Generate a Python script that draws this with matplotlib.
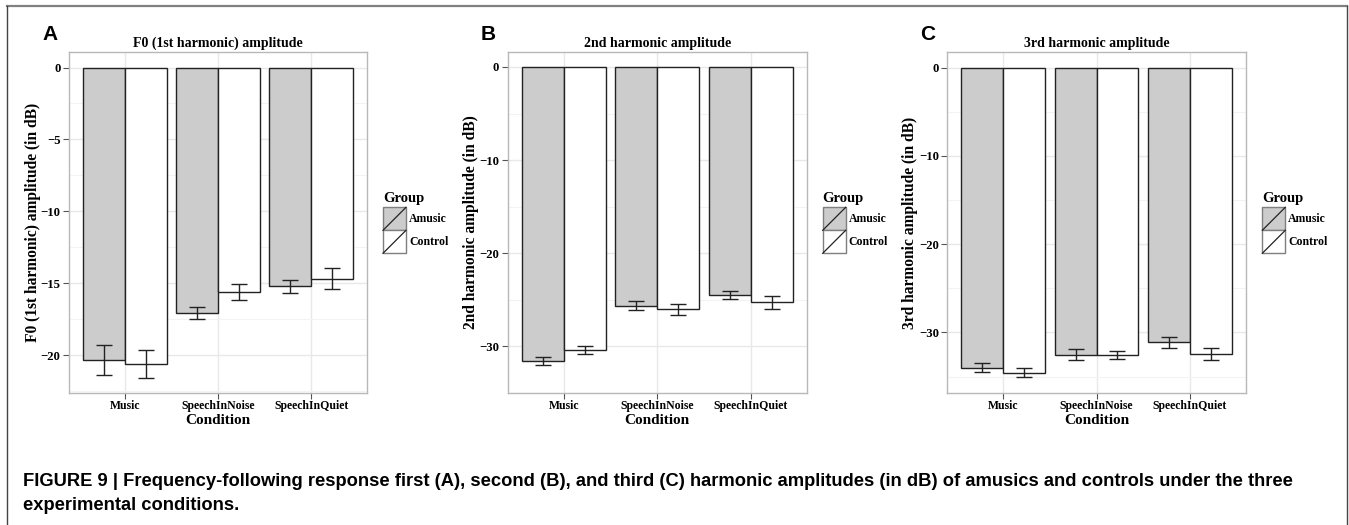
import matplotlib.pyplot as plt
import numpy as np
from matplotlib.patches import Rectangle
from matplotlib.lines import Line2D

# values (dB), mean and error-bar half width
conditions = ["Music", "SpeechInNoise", "SpeechInQuiet"]
groups = ["Amusic", "Control"]
group_colors = ["#cccccc", "#ffffff"]

f0_amusic = [-20.35, -17.06, -15.20]
f0_amusic_err = [1.05, 0.40, 0.45]
f0_control = [-20.60, -15.63, -14.67]
f0_control_err = [0.95, 0.55, 0.72]

h2_amusic = [-31.60, -25.62, -24.45]
h2_amusic_err = [0.43, 0.48, 0.43]
h2_control = [-30.41, -26.03, -25.27]
h2_control_err = [0.43, 0.56, 0.70]

h3_amusic = [-33.99, -32.52, -31.09]
h3_amusic_err = [0.49, 0.64, 0.62]
h3_control = [-34.55, -32.52, -32.44]
h3_control_err = [0.55, 0.47, 0.73]

panel_letters = ["A", "B", "C"]
panel_titles = ["F0 (1st harmonic) amplitude", "2nd harmonic amplitude", "3rd harmonic amplitude"]
panel_ylabels = ["F0 (1st harmonic) amplitude (in dB)", "2nd harmonic amplitude (in dB)",
                 "3rd harmonic amplitude (in dB)"]
panel_steps = [5, 10, 10]

W, H = 1349, 525
SERIF = "Liberation Serif"
SANS = "Liberation Sans"

fig = plt.figure(figsize=(W / 100, H / 100), dpi=100)


def fx(x):
    return x / W


def fy(y):
    return 1 - y / H


# panel placement in pixels (left, right), shared top/bottom
lefts = [69, 507.7, 947.3]
rights = [367, 806.7, 1245.7]
top, bottom = 52, 393
ylab_x = [33, 471, 910.5]
legend_x = [383, 822.7, 1262.3]

series = [
    (f0_amusic, f0_amusic_err, f0_control, f0_control_err),
    (h2_amusic, h2_amusic_err, h2_control, h2_control_err),
    (h3_amusic, h3_amusic_err, h3_control, h3_control_err),
]

x = np.arange(1, len(conditions) + 1)
bw = 0.45

for i in range(3):
    am, am_e, co, co_e = series[i]
    l, r = lefts[i], rights[i]
    ax = fig.add_axes([fx(l), fy(bottom), (r - l) / W, (bottom - top) / H])

    for k, (vals, errs) in enumerate([(am, am_e), (co, co_e)]):
        xs = x + (k - 0.5) * bw
        ax.bar(xs, vals, width=bw, color=group_colors[k], edgecolor="#222222",
               linewidth=1.0, zorder=2)
        ax.errorbar(xs, vals, yerr=errs, fmt="none", ecolor="#222222",
                    elinewidth=1.0, capsize=6, capthick=1.0, zorder=3)

    lo = min(min(np.array(am) - np.array(am_e)), min(np.array(co) - np.array(co_e)))
    pad = 0.05 * (0 - lo)
    ax.set_ylim(lo - pad, pad)
    ax.set_xlim(0.4, 3.6)

    step = panel_steps[i]
    yt = np.arange(0, lo - pad, -step)
    ax.set_yticks(yt)
    ax.set_yticks(yt - step / 2, minor=True)
    ax.set_xticks(x)
    ax.set_xticklabels(conditions, fontfamily=SERIF, fontweight="bold", fontsize=8.5)
    for lab in ax.get_yticklabels():
        lab.set_fontfamily(SERIF)
        lab.set_fontweight("bold")
        lab.set_fontsize(9.2)
    ax.tick_params(axis="both", which="major", length=4, color="#555555", width=0.8, pad=2)
    ax.tick_params(axis="x", which="major", pad=1)
    ax.tick_params(axis="y", which="minor", length=0)

    ax.grid(True, which="major", color="#e8e8e8", linewidth=1.0, zorder=0)
    ax.grid(True, which="minor", axis="y", color="#f3f3f3", linewidth=0.8, zorder=0)
    ax.set_axisbelow(True)
    for s in ax.spines.values():
        s.set_color("#b8b8b8")
        s.set_linewidth(1.0)

    ax.text(0.5, 1 + 9 / (bottom - top), panel_titles[i], transform=ax.transAxes,
            ha="center", va="center", fontfamily=SERIF, fontweight="bold", fontsize=10)
    ax.text(0.5, -27 / (bottom - top), "Condition", transform=ax.transAxes,
            ha="center", va="center", fontfamily=SERIF, fontweight="bold", fontsize=11)
    ax.set_ylabel(panel_ylabels[i], fontfamily=SERIF, fontweight="bold", fontsize=11.2,
                  va="center")
    ax.yaxis.set_label_coords((ylab_x[i] - l) / (r - l), 0.5)

    # panel letter
    fig.text(fx(l - 27), fy(34), panel_letters[i], ha="left", va="center",
             fontfamily=SANS, fontweight="bold", fontsize=15)

    # ggplot style legend
    lx = legend_x[i]
    fig.text(fx(lx), fy(198), "Group", ha="left", va="center",
             fontfamily=SERIF, fontweight="bold", fontsize=10.5)
    for k, g in enumerate(groups):
        y0 = 207.3 + k * 23
        fig.patches.append(Rectangle((fx(lx), fy(y0 + 23)), 23 / W, 23 / H,
                                     transform=fig.transFigure, facecolor=group_colors[k],
                                     edgecolor="#7f7f7f", linewidth=1.0))
        fig.lines.append(Line2D([fx(lx), fx(lx + 23)], [fy(y0 + 23), fy(y0)],
                                transform=fig.transFigure, color="#222222", linewidth=0.9))
        fig.text(fx(lx + 26), fy(y0 + 11.5), g, ha="left", va="center",
                 fontfamily=SERIF, fontweight="bold", fontsize=8.5)

# outer frame
fig.lines.append(Line2D([fx(7), fx(1347)], [fy(5.5), fy(5.5)], transform=fig.transFigure,
                        color="#808080", linewidth=1.6))
fig.lines.append(Line2D([fx(7), fx(7)], [fy(5.5), 0], transform=fig.transFigure,
                        color="#444444", linewidth=1.0))
fig.lines.append(Line2D([fx(1347), fx(1347)], [fy(5.5), 0], transform=fig.transFigure,
                        color="#444444", linewidth=1.0))

caption1 = ("FIGURE 9 | Frequency-following response first (A), second (B), and third (C) "
            "harmonic amplitudes (in dB) of amusics and controls under the three")
caption2 = "experimental conditions."
fig.text(fx(23), fy(486), caption1, ha="left", va="baseline",
         fontfamily=SANS, fontweight="bold", fontsize=13.2)
fig.text(fx(23), fy(510), caption2, ha="left", va="baseline",
         fontfamily=SANS, fontweight="bold", fontsize=13.2)

fig.savefig("out.png", dpi=100)
